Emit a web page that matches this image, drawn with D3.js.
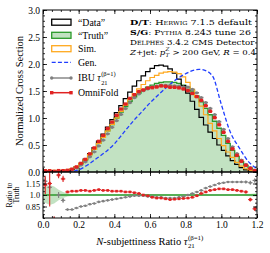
<!DOCTYPE html>
<html><head><meta charset="utf-8">
<script src="https://cdn.jsdelivr.net/npm/d3@7"></script>
<style>
body{margin:0;background:#fff}
svg{display:block}
text{font-family:"Liberation Serif","DejaVu Serif",serif;white-space:pre;fill:#000}
.info text{font-family:"DejaVu Serif","Liberation Serif",serif}
</style>
</head><body>
<svg id="c" width="270" height="253"></svg>
<script>
// ---------------- data ----------------
const binWidth = 0.025;
const binEdges = d3.range(49).map(i => +(i * binWidth).toFixed(4));
// "Data" (Herwig, detector level)
const dataHist = [0.02,0.02,0.02,0.02,0.02,0.03,0.05,0.10,0.16,0.24,0.34,0.45,0.57,0.70,0.83,0.97,1.10,1.23,1.36,1.48,1.59,1.69,1.78,1.86,1.92,1.97,1.98,1.96,1.91,1.83,1.72,1.60,1.46,1.31,1.16,1.01,0.87,0.74,0.62,0.50,0.40,0.30,0.21,0.14,0.08,0.04,0.02,0.01];
// "Truth" (Herwig, particle level)
const truthHist = [0.02,0.02,0.02,0.02,0.02,0.03,0.05,0.09,0.15,0.22,0.32,0.42,0.53,0.64,0.76,0.88,1.00,1.11,1.21,1.31,1.39,1.46,1.52,1.57,1.61,1.64,1.66,1.67,1.67,1.66,1.64,1.61,1.57,1.50,1.41,1.30,1.18,1.06,0.94,0.81,0.68,0.53,0.40,0.29,0.19,0.12,0.07,0.03];
// Sim. (Pythia, detector level)
const simHist = [0.03,0.03,0.03,0.03,0.03,0.04,0.06,0.10,0.16,0.23,0.32,0.42,0.53,0.64,0.76,0.88,1.00,1.12,1.24,1.35,1.45,1.54,1.62,1.69,1.75,1.79,1.83,1.85,1.86,1.85,1.82,1.76,1.66,1.53,1.38,1.22,1.06,0.90,0.76,0.62,0.49,0.37,0.27,0.18,0.11,0.06,0.03,0.01];
// Gen. (Pythia, particle level) smooth curve
const genX = [0.0,0.05,0.10,0.15,0.20,0.25,0.30,0.35,0.40,0.45,0.50,0.55,0.60,0.65,0.70,0.75,0.80,0.85,0.875,0.90,0.95,1.00,1.05,1.10,1.15,1.20];
const genY = [0.0,0.0,0.0,0.005,0.04,0.13,0.25,0.37,0.52,0.72,0.92,1.10,1.28,1.44,1.59,1.72,1.82,1.89,1.90,1.89,1.78,1.25,0.74,0.45,0.20,0.06];
// ratios to truth
const omniRatio = [1.13,1.15,0.55,1.26,1.21,1.04,1.05,1.05,1.06,1.06,1.05,1.06,1.07,1.06,1.06,1.05,1.05,1.05,1.04,1.04,1.03,1.02,1.00,0.99,0.97,0.96,0.96,0.95,0.94,0.945,0.95,0.955,0.96,0.97,0.99,1.02,1.04,1.06,1.07,1.08,1.08,1.07,1.07,1.06,1.05,1.04,0.94,0.82];
const omniErr = [0.12,0.30,0.17,0.04,0.04,0.015,0.012,0.01,0.01,0.01,0.01,0.01,0.01,0.01,0.01,0.01,0.01,0.01,0.01,0.01,0.01,0.01,0.01,0.01,0.01,0.01,0.01,0.01,0.01,0.01,0.01,0.01,0.01,0.01,0.01,0.01,0.01,0.01,0.01,0.01,0.01,0.01,0.012,0.012,0.015,0.02,0.025,0.03];
const ibuRatio = [1.18,1.10,0.62,1.00,0.93,0.81,0.81,0.83,0.85,0.86,0.88,0.89,0.91,0.92,0.93,0.94,0.95,0.96,0.97,0.98,0.99,0.99,0.99,0.98,0.98,0.97,0.97,0.96,0.96,0.96,0.97,0.98,1.00,1.02,1.04,1.06,1.09,1.11,1.13,1.15,1.16,1.17,1.17,1.17,1.17,1.17,1.16,1.19];
const ibuErr = [0.05,0.08,0.10,0.04,0.03,0.012,0.01,0.01,0.01,0.01,0.01,0.01,0.01,0.01,0.01,0.01,0.01,0.01,0.01,0.01,0.01,0.01,0.01,0.01,0.01,0.01,0.01,0.01,0.01,0.01,0.01,0.01,0.01,0.01,0.01,0.01,0.01,0.01,0.01,0.01,0.01,0.01,0.012,0.012,0.015,0.02,0.025,0.03];
const truthRelErr = [0.10,0.13,0.11,0.07,0.04,0.02,0.012,0.01,0.008,0.008,0.008,0.008,0.008,0.008,0.008,0.008,0.008,0.008,0.008,0.008,0.008,0.008,0.008,0.008,0.008,0.008,0.008,0.008,0.008,0.008,0.008,0.008,0.008,0.008,0.008,0.008,0.008,0.008,0.008,0.008,0.008,0.008,0.008,0.01,0.01,0.012,0.015,0.02];

const xTicks = [0,0.2,0.4,0.6,0.8,1.0,1.2];
const yTicks = [0,0.5,1.0,1.5,2.0,2.5,3.0];
const rTicks = [0.85,1.0,1.15];
const legendLabels = ["\u201CData\u201D","\u201CTruth\u201D","Sim.","Gen.","IBU","OmniFold"];

// ---------------- layout ----------------
const C = {data:"#000", truthLine:"#2a9a2a", truthFill:"#c2e2c2", sim:"#ffa91f", gen:"#1f3dff", ibu:"#808080", omni:"#e02222"};
const X0=43, X1=257, YT=10, YM=172, YB=218;
const svg = d3.select("#c");
const x = d3.scaleLinear().domain([0,1.2]).range([X0,X1]);
const y = d3.scaleLinear().domain([0,3]).range([YM,YT]);
const yr = d3.scaleLinear().domain([0.7,1.3]).range([YB,YM]);
const centers = truthHist.map((_,i)=>(binEdges[i]+binEdges[i+1])/2);

const defs = svg.append("defs");
defs.append("clipPath").attr("id","cm").append("rect").attr("x",X0).attr("y",YT).attr("width",X1-X0).attr("height",YM-YT);
defs.append("clipPath").attr("id","cr").append("rect").attr("x",X0).attr("y",YM).attr("width",X1-X0).attr("height",YB-YM);

const gm = svg.append("g").attr("clip-path","url(#cm)");
const gr = svg.append("g").attr("clip-path","url(#cr)");

const stepPts = h => h.map((v,i)=>[binEdges[i],v]).concat([[binEdges[h.length],h[h.length-1]]]);
const stepLine = d3.line().x(d=>x(d[0])).y(d=>y(d[1])).curve(d3.curveStepAfter);
const stepArea = d3.area().x(d=>x(d[0])).y0(y(0)).y1(d=>y(d[1])).curve(d3.curveStepAfter);

gm.append("path").attr("d",stepArea(stepPts(truthHist))).attr("fill",C.truthFill);
gm.append("path").attr("d",stepLine(stepPts(truthHist))).attr("fill","none").attr("stroke",C.truthLine).attr("stroke-width",1.3);
gm.append("path").attr("d",stepLine(stepPts(dataHist))).attr("fill","none").attr("stroke",C.data).attr("stroke-width",1.2);
gm.append("path").attr("d",stepLine(stepPts(simHist))).attr("fill","none").attr("stroke",C.sim).attr("stroke-width",1.2);
gm.append("path").attr("d",d3.line().x((d,i)=>x(genX[i])).y(d=>y(d)).curve(d3.curveMonotoneX)(genY))
  .attr("fill","none").attr("stroke",C.gen).attr("stroke-width",1.3).attr("stroke-dasharray","4,2.2");

function points(g, vals, errs, sc, color, shape, size, lw){
  vals.forEach((v,i)=>{
    const xl=x(binEdges[i]), xh=x(binEdges[i+1]), xc=x(centers[i]);
    g.append("line").attr("x1",xl).attr("x2",xh).attr("y1",sc(v)).attr("y2",sc(v)).attr("stroke",color).attr("stroke-width",lw);
    g.append("line").attr("x1",xc).attr("x2",xc).attr("y1",sc(v-errs[i])).attr("y2",sc(v+errs[i])).attr("stroke",color).attr("stroke-width",lw);
    if(shape==="circle") g.append("circle").attr("cx",xc).attr("cy",sc(v)).attr("r",size/2).attr("fill",color);
    else g.append("rect").attr("x",xc-size/2).attr("y",sc(v)-size/2).attr("width",size).attr("height",size).attr("fill",color);
  });
}
// main panel unfolded results (truth x ratio)
points(gm, truthHist.map((t,i)=>t*ibuRatio[i]), truthHist.map((t,i)=>t*ibuErr[i]), y, C.ibu, "circle", 3.2, 1.6);
points(gm, truthHist.map((t,i)=>t*omniRatio[i]), truthHist.map((t,i)=>t*omniErr[i]), y, C.omni, "square", 3.4, 1.6);

// ratio panel
const bandPts = [[0,truthRelErr[0]]].concat(centers.map((c,i)=>[c,truthRelErr[i]])).concat([[1.2,truthRelErr[truthRelErr.length-1]]]);
gr.append("path").attr("d",d3.area().x(d=>x(d[0])).y0(d=>yr(1-d[1])).y1(d=>yr(1+d[1]))(bandPts)).attr("fill",C.truthFill);
gr.append("line").attr("x1",x(0)).attr("x2",x(1.2)).attr("y1",yr(1)).attr("y2",yr(1)).attr("stroke",C.truthLine).attr("stroke-width",1.3);
points(gr, ibuRatio, ibuErr, yr, C.ibu, "circle", 2.6, 1.1);
points(gr, omniRatio, omniErr, yr, C.omni, "square", 2.6, 1.1);

// ---------------- axes ----------------
const minor = (a,b,s)=>d3.range(Math.round((b-a)/s)+1).map(i=>+(a+i*s).toFixed(4));
function styleAxis(g, fs){
  g.select(".domain").remove();
  g.selectAll("line").attr("stroke","#000").attr("stroke-width",0.8);
  g.selectAll("text").attr("font-family",null).attr("font-size",fs).attr("fill","#000");
  g.attr("font-family",null);
}
function panelAxes(ys, yTop, yBot, yMaj, yMin, yFmt, yFs, xLabels){
  const add = (tr, ax, fs)=>{ const g=svg.append("g").attr("transform",tr).call(ax); styleAxis(g, fs); };
  add(`translate(0,${yBot})`, d3.axisBottom(x).tickValues(minor(0,1.2,0.05)).tickSize(-2).tickFormat(""), 9);
  add(`translate(0,${yBot})`, d3.axisBottom(x).tickValues(xTicks).tickSize(-4).tickPadding(3).tickFormat(xLabels?d3.format(".1f"):""), 9.5);
  add(`translate(0,${yTop})`, d3.axisTop(x).tickValues(minor(0,1.2,0.05)).tickSize(-2).tickFormat(""), 9);
  add(`translate(0,${yTop})`, d3.axisTop(x).tickValues(xTicks).tickSize(-4).tickFormat(""), 9);
  add(`translate(${X0},0)`, d3.axisLeft(ys).tickValues(yMin).tickSize(-2).tickFormat(""), 9);
  add(`translate(${X0},0)`, d3.axisLeft(ys).tickValues(yMaj).tickSize(-4).tickPadding(3).tickFormat(yFmt), yFs);
  add(`translate(${X1},0)`, d3.axisRight(ys).tickValues(yMin).tickSize(-2).tickFormat(""), 9);
  add(`translate(${X1},0)`, d3.axisRight(ys).tickValues(yMaj).tickSize(-4).tickFormat(""), 9);
  svg.append("rect").attr("x",X0).attr("y",yTop).attr("width",X1-X0).attr("height",yBot-yTop).attr("fill","none").attr("stroke","#000").attr("stroke-width",1);
}
panelAxes(y, YT, YM, yTicks, minor(0,3,0.1), d3.format(".1f"), 9.5, false);
panelAxes(yr, YM, YB, rTicks, minor(0.7,1.3,0.05), d=>d===1?"1.0":d3.format(".2f")(d), 8.2, true);

// ---------------- rich text helper ----------------
function rich(parent, x0, y0, fs, segs){
  const g = parent.append("g");
  let cx = 0, cur;
  const newText = ()=>{ cur = g.append("text").attr("x",cx).attr("y",0).attr("font-size",fs); };
  newText();
  segs.forEach(s=>{
    if(s.stack){
      cx += cur.node().getComputedTextLength() + fs*0.03;
      const a = g.append("text").attr("x",cx).attr("y",fs*0.33).attr("font-size",fs*0.66).text(s.stack[0]);
      const b = g.append("text").attr("x",cx).attr("y",-fs*0.5).attr("font-size",fs*0.66).text(s.stack[1]);
      if(s.i){a.attr("font-style","italic"); b.attr("font-style","italic");}
      cx += Math.max(a.node().getComputedTextLength(), b.node().getComputedTextLength()) + fs*0.03;
      newText();
    } else {
      const t = cur.append("tspan").text(s.t);
      if(s.b) t.attr("font-weight","bold");
      if(s.i) t.attr("font-style","italic");
      if(s.sc) t.style("font-variant","small-caps");
    }
  });
  cx += cur.node().getComputedTextLength();
  g.attr("transform",`translate(${x0},${y0})`);
  return {g, w:cx};
}

// axis titles
const xt = rich(svg, 0, 245, 10.5, [{t:"N",i:true},{t:"-subjettiness Ratio "},{t:"τ",i:true},{stack:["21","(β=1)"],i:false}]);
xt.g.attr("transform",`translate(${(X0+X1)/2 - xt.w/2},245)`);
svg.append("text").attr("transform",`translate(22.5,${(YT+YM)/2}) rotate(-90)`).attr("text-anchor","middle").attr("font-size",10.5).text("Normalized Cross Section");
svg.append("text").attr("transform",`translate(12.3,${yr(1)}) rotate(-90)`).attr("text-anchor","middle").attr("font-size",7.8).text("Ratio to");
svg.append("text").attr("transform",`translate(19,${yr(1)}) rotate(-90)`).attr("text-anchor","middle").attr("font-size",7.8).text("Truth");

// ---------------- legend ----------------
const LX0=51.7, LX1=71, LT=78;
const ly = [22.2,35.3,48.7,62.3,78,92.7];
const lg = svg.append("g");
lg.append("rect").attr("x",LX0).attr("y",ly[0]-3).attr("width",LX1-LX0).attr("height",6).attr("fill","#fff").attr("stroke",C.data).attr("stroke-width",1.3);
lg.append("rect").attr("x",LX0).attr("y",ly[1]-3).attr("width",LX1-LX0).attr("height",6).attr("fill",C.truthFill).attr("stroke",C.truthLine).attr("stroke-width",1.3);
lg.append("rect").attr("x",LX0).attr("y",ly[2]-3).attr("width",LX1-LX0).attr("height",6).attr("fill","#fff").attr("stroke",C.sim).attr("stroke-width",1.3);
lg.append("line").attr("x1",LX0).attr("x2",LX1).attr("y1",ly[3]).attr("y2",ly[3]).attr("stroke",C.gen).attr("stroke-width",1.3).attr("stroke-dasharray","4,2.2");
lg.append("line").attr("x1",LX0).attr("x2",LX1).attr("y1",ly[4]).attr("y2",ly[4]).attr("stroke",C.ibu).attr("stroke-width",1.4);
[LX0,LX1].forEach(v=>lg.append("circle").attr("cx",v).attr("cy",ly[4]).attr("r",1.7).attr("fill",C.ibu));
lg.append("line").attr("x1",LX0).attr("x2",LX1).attr("y1",ly[5]).attr("y2",ly[5]).attr("stroke",C.omni).attr("stroke-width",1.5);
[LX0,LX1].forEach(v=>lg.append("rect").attr("x",v-1.7).attr("y",ly[5]-1.7).attr("width",3.4).attr("height",3.4).attr("fill",C.omni));
[0,1,2,3,5].forEach(i=>lg.append("text").attr("x",LT).attr("y",ly[i]+3.3).attr("font-size",9.8).text(legendLabels[i]));
rich(lg, LT, ly[4]+3.3, 9.8, [{t:legendLabels[4]+" "},{t:"τ",i:true},{stack:["21","(β=1)"],i:false}]);

// ---------------- info block ----------------
const info = [
  [{t:"D/T",b:true},{t:": "},{t:"Herwig",sc:true},{t:" 7.1.5 default"}],
  [{t:"S/G",b:true},{t:": "},{t:"Pythia",sc:true},{t:" 8.243 tune 26"}],
  [{t:"Delphes",sc:true},{t:" 3.4.2 CMS Detector"}],
  [{t:"Z",i:true},{t:"+jet: "},{t:"p",i:true},{stack:["T","Z"],i:true},{t:" > 200 GeV, "},{t:"R",i:true},{t:" = 0.4"}]
];
const infoY = [25.2,34.8,44.6,54.8];
const infoW = [121,120,122,126];
const ig = svg.append("g").attr("class","info");
info.forEach((segs,i)=>{
  const m = rich(ig, 130, infoY[i], 7.6, segs);
  const k = infoW[i] / m.w;
  const ky = Math.min(1.05, k);
  m.g.attr("transform",`translate(130,${infoY[i]}) scale(${k},${ky})`);
});
</script>
</body></html>
